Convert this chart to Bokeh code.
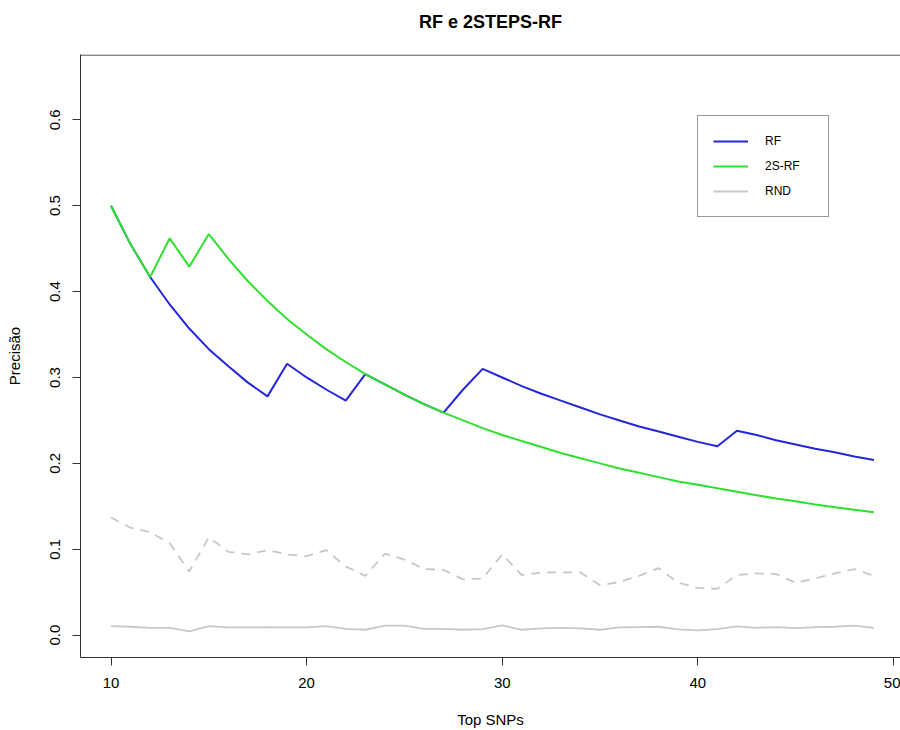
from bokeh.plotting import figure
from bokeh.models import Range1d, FixedTicker, Legend, LegendItem, Span, NumeralTickFormatter
from bokeh.embed import file_html
from bokeh.resources import INLINE

top_snps = [10, 11, 12, 13, 14, 15, 16, 17, 18, 19, 20, 21, 22, 23, 24, 25, 26, 27, 28, 29,
            30, 31, 32, 33, 34, 35, 36, 37, 38, 39, 40, 41, 42, 43, 44, 45, 46, 47, 48, 49]

rf = [0.500, 0.455, 0.417, 0.385, 0.357, 0.333, 0.313, 0.294, 0.278, 0.316,
      0.300, 0.286, 0.273, 0.304, 0.292, 0.280, 0.269, 0.259, 0.286, 0.310,
      0.300, 0.290, 0.281, 0.273, 0.265, 0.257, 0.250, 0.243, 0.237, 0.231,
      0.225, 0.220, 0.238, 0.233, 0.227, 0.222, 0.217, 0.213, 0.208, 0.204]

rf_2s = [0.500, 0.455, 0.417, 0.462, 0.429, 0.467, 0.438, 0.412, 0.389, 0.368,
         0.350, 0.333, 0.318, 0.304, 0.292, 0.280, 0.269, 0.259, 0.250, 0.241,
         0.233, 0.226, 0.219, 0.212, 0.206, 0.200, 0.194, 0.189, 0.184, 0.179,
         0.175, 0.171, 0.167, 0.163, 0.159, 0.156, 0.152, 0.149, 0.146, 0.143]

rnd_upper = [0.137, 0.125, 0.120, 0.107, 0.074, 0.114, 0.097, 0.094, 0.099, 0.094,
             0.092, 0.099, 0.080, 0.069, 0.095, 0.088, 0.077, 0.076, 0.065, 0.066,
             0.094, 0.070, 0.073, 0.073, 0.073, 0.058, 0.062, 0.069, 0.078, 0.061,
             0.055, 0.054, 0.070, 0.072, 0.071, 0.061, 0.066, 0.072, 0.077, 0.069]

rnd_mean = [0.0105, 0.0098, 0.0086, 0.0086, 0.0043, 0.0105, 0.0090, 0.0090, 0.0094, 0.0090,
            0.0090, 0.0105, 0.0074, 0.0063, 0.0110, 0.0110, 0.0074, 0.0074, 0.0063, 0.0070,
            0.0113, 0.0063, 0.0080, 0.0086, 0.0080, 0.0063, 0.0090, 0.0094, 0.0098, 0.0067,
            0.0055, 0.0070, 0.0102, 0.0086, 0.0094, 0.0082, 0.0094, 0.0098, 0.0110, 0.0086]

x_ticks = [10, 20, 30, 40, 50]
y_ticks = [0.0, 0.1, 0.2, 0.3, 0.4, 0.5, 0.6]
title_text = "RF e 2STEPS-RF"

FONT = "Liberation Sans"
AXIS_COLOR = "#333333"
BLUE = "#2626d9"
GREEN = "#2fe02f"
GRAY = "#c8c8c8"

x0, x1 = 8.44, 50.36
y0, y1 = -0.026, 0.676

# the empty second line lifts the title away from the plot box, as in the original
p = figure(width=900, height=730, output_backend="svg", toolbar_location=None,
           x_range=Range1d(x0, x1), y_range=Range1d(y0, y1),
           min_border_left=80, min_border_right=0, min_border_top=54, min_border_bottom=72,
           title=title_text + "\n\u00a0")
p.outline_line_color = None
p.grid.visible = False
p.background_fill_color = "white"
p.border_fill_color = "white"

p.title.align = "center"
p.title.text_font = FONT
p.title.text_font_size = "18px"
p.title.text_font_style = "bold"
p.title.text_color = "black"
p.title.standoff = 5

for ax in (p.xaxis[0], p.yaxis[0]):
    ax.axis_line_color = AXIS_COLOR
    ax.major_tick_line_color = AXIS_COLOR
    ax.major_tick_in = 0
    ax.major_tick_out = 8
    ax.minor_tick_line_color = None
    ax.major_label_text_font = FONT
    ax.major_label_text_font_size = "15px"
    ax.major_label_text_color = "black"
    ax.axis_label_text_font = FONT
    ax.axis_label_text_font_size = "15px"
    ax.axis_label_text_font_style = "normal"
    ax.axis_label_text_color = "black"
    ax.major_label_standoff = 12

p.xaxis.ticker = FixedTicker(ticks=x_ticks)
p.yaxis.ticker = FixedTicker(ticks=y_ticks)
p.yaxis.formatter = NumeralTickFormatter(format="0.0")
p.yaxis.major_label_orientation = "vertical"
p.xaxis.axis_label = "Top SNPs"
p.yaxis.axis_label = "Precisão"
p.xaxis.axis_label_standoff = 20
p.yaxis.axis_label_standoff = 25

# top border of the plot box
p.add_layout(Span(location=y1 - 0.0007, dimension="width", line_color=AXIS_COLOR, line_width=1))

r_up = p.line(top_snps, rnd_upper, line_color=GRAY, line_width=1.8, line_dash="9 7")
r_rnd = p.line(top_snps, rnd_mean, line_color=GRAY, line_width=1.8)
r_rf = p.line(top_snps, rf, line_color=BLUE, line_width=2)
r_2s = p.line(top_snps, rf_2s, line_color=GREEN, line_width=2)

legend = Legend(items=[LegendItem(label="RF", renderers=[r_rf]),
                       LegendItem(label="2S-RF", renderers=[r_2s]),
                       LegendItem(label="RND", renderers=[r_rnd])],
                location=(617, 440), margin=0, padding=15, spacing=5,
                glyph_width=35, glyph_height=20, label_height=20, label_width=48,
                label_standoff=17, label_text_font=FONT, label_text_font_size="12px",
                label_text_color="black",
                border_line_color=AXIS_COLOR, border_line_width=1,
                background_fill_color="white", background_fill_alpha=1.0)
p.add_layout(legend)

open("out.html", "w").write(file_html(p, INLINE))
